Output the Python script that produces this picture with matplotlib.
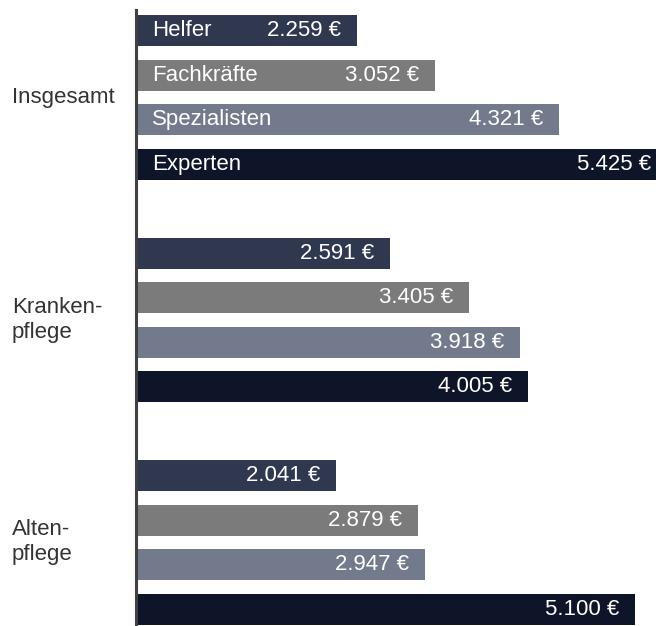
import matplotlib.pyplot as plt

plt.rcParams['font.family'] = ['Liberation Sans', 'DejaVu Sans']

# Daten
gruppen = ['Insgesamt', 'Kranken-\npflege', 'Alten-\npflege']
stufen = ['Helfer', 'Fachkräfte', 'Spezialisten', 'Experten']
werte = {
    'Insgesamt': [2259, 3052, 4321, 5425],
    'Kranken-\npflege': [2591, 3405, 3918, 4005],
    'Alten-\npflege': [2041, 2879, 2947, 5100],
}
farben = ['#303850', '#7b7b7b', '#737a8c', '#0f1529']


def euro(v):
    return f'{v:,}'.replace(',', '.') + ' €'


fig = plt.figure(figsize=(6.56, 6.26), dpi=100)
ax = fig.add_axes([136 / 656, 0, 520 / 656, 616 / 626])

for g, gruppe in enumerate(gruppen):
    for s, wert in enumerate(werte[gruppe]):
        pos = g * 5 + s
        ax.barh(pos, wert, height=0.7, color=farben[s], edgecolor='none')
        ax.annotate(euro(wert), (wert, pos), xytext=(-11.5, 0), textcoords='offset points',
                    ha='right', va='center', color='white', fontsize=16,
                    annotation_clip=False)
        if g == 0:
            ax.annotate(stufen[s], (0, pos), xytext=(11.5, 0), textcoords='offset points',
                        ha='left', va='center', color='white', fontsize=16)
    ax.annotate(gruppe, (0, g * 5 + 1.5), xytext=(-124 * 0.72, 0), textcoords='offset points',
                ha='left', va='center', color='#333333', fontsize=16, linespacing=1.25,
                annotation_clip=False)

ax.set_xlim(0, 5310)
ax.set_ylim(13.38, -0.47)
for side in ['top', 'right', 'bottom']:
    ax.spines[side].set_visible(False)
ax.spines['left'].set_color('#404040')
ax.spines['left'].set_linewidth(2.2)
ax.set_xticks([])
ax.set_yticks([])

plt.savefig('out.png', dpi=100)
